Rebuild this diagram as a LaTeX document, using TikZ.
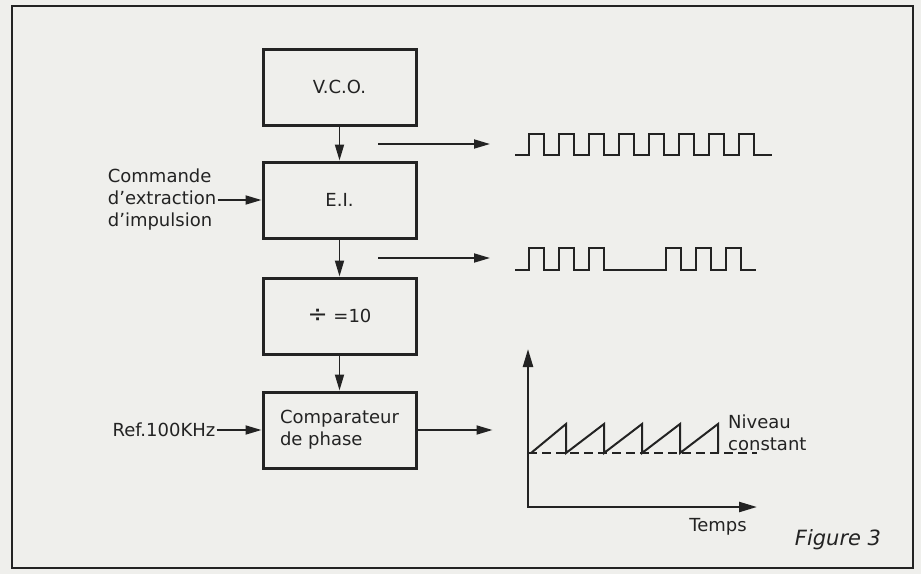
\documentclass[tikz,border=0pt]{standalone}
\usepackage{fontspec}
\setmainfont{DejaVu Sans}
\usetikzlibrary{arrows.meta,positioning}
\definecolor{paper}{RGB}{239,239,236}
\definecolor{ink}{RGB}{35,35,35}

\begin{document}
\begin{tikzpicture}[
  x=1pt,y=-1pt,
  font=\fontsize{18}{22}\selectfont,
  block/.style={draw=ink,line width=3pt,minimum width=153pt,minimum height=76pt,align=left,inner sep=2pt,text=ink},
  lbl/.style={align=left,inner sep=1pt,text=ink},
  arr/.style={-{Triangle[length=16pt,width=9pt]},line width=1.8pt,draw=ink},
  wave/.style={line width=2pt,draw=ink,line join=miter},
  axis/.style={{Triangle[length=18pt,width=10pt]}-{Triangle[length=18pt,width=10pt]},line width=2.4pt,draw=ink,line join=miter},
  level/.style={dash pattern=on 9pt off 5pt,line width=1.8pt,draw=ink}
]
\useasboundingbox (0,0) rectangle (921,574);
\fill[paper] (0,0) rectangle (921,574);
\draw[ink,line width=2.6pt] (12,6) rectangle (913,568);
% ---------------- chain of blocks ----------------
\node[block] (vco) at (339.5,87) {V.C.O.};
\node[block,below=34pt of vco] (ei) {E.I.};
\node[block,below=37pt of ei] (div) {{\fontsize{24}{22}\selectfont÷} =10};
\node[block,below=35pt of div] (cmp) {Comparateur\\de phase};
\draw[arr] (vco) -- (ei);
\draw[arr] (ei) -- (div);
\draw[arr] (div) -- (cmp);
% ---------------- inputs ----------------
\node[lbl,left=44pt of ei] (cmd) {Commande\\d’extraction\\d’impulsion};
\node[lbl,left=45pt of cmp] (ref) {Ref.100KHz};
\draw[arr] (cmd) -- (ei);
\draw[arr] (ref) -- (cmp);
% ---------------- signals ----------------
\coordinate (tapA) at (378,144);
\coordinate (sigA) at (490,144);
\coordinate (tapB) at (378,258);
\coordinate (sigB) at (490,258);
\coordinate (cmpout) at ([xshift=75pt]cmp.east);
\draw[arr] (tapA) -- (sigA);
\draw[arr] (tapB) -- (sigB);
\draw[arr] (cmp.east) -- (cmpout);
\draw[wave] (515,155) -- ++(14,0)
  \foreach \i in {1,...,8}{ -- ++(0,-21) -- ++(15,0) -- ++(0,21) -- ++(15,0) } -- ++(3,0);
\draw[wave] (515,270) -- ++(14,0)
  \foreach \i in {1,2,3}{ -- ++(0,-22) -- ++(15,0) -- ++(0,22) -- ++(15,0) } -- (666,270)
  \foreach \i in {1,2,3}{ -- ++(0,-22) -- ++(15,0) -- ++(0,22) -- ++(15,0) };
% ---------------- comparator output ----------------
\coordinate (org) at (528,507);
\coordinate (ytop) at (528,349);
\coordinate (xend) at (757,507);
\draw[axis] (ytop) -- (org) -- (xend);
\draw[level] (528,453) -- (757,453);
\draw[wave] (531,453) \foreach \p in {566,604,642,680,718}{ -- (\p,424) -- (\p,453) };
\node[lbl,anchor=west] (lvl) at (727,433) {Niveau\\constant};
\node[lbl] (tps) at (718,527) {Temps};
\node[lbl,font=\fontsize{21}{24}\selectfont\itshape] (fig) at (838,540) {Figure 3};
\end{tikzpicture}
\end{document}
